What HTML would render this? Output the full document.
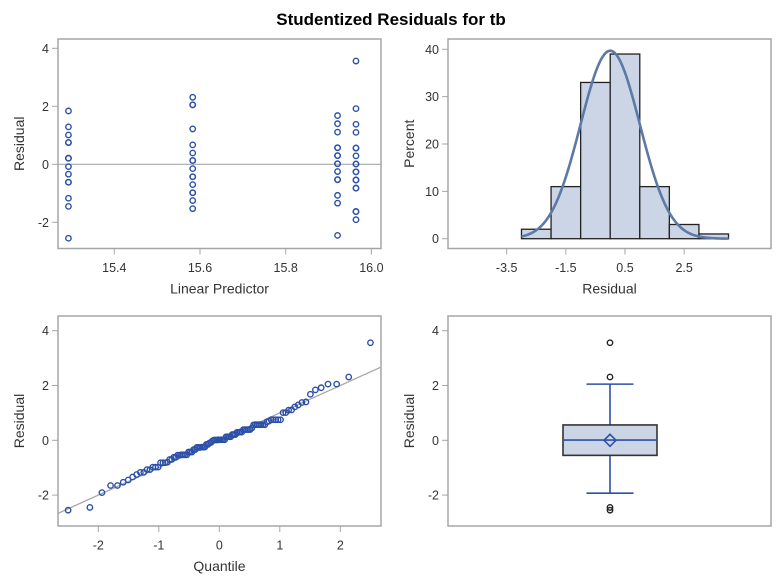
<!DOCTYPE html>
<html><head><meta charset="utf-8"><style>
html,body{margin:0;padding:0;background:#fff;}
svg{display:block;font-family:"Liberation Sans",Arial,sans-serif;}
</style></head><body>
<svg id="c" width="782" height="582" viewBox="0 0 782 582" xmlns="http://www.w3.org/2000/svg">
<text x="391" y="25" text-anchor="middle" font-size="17" font-weight="bold" fill="#000">Studentized Residuals for tb</text>
</svg>
<script>
// ---- data ----
const predictorLevels = [15.293, 15.583, 15.921, 15.964];
const residCol1 = [1.84,1.29,1.01,0.75,0.75,0.21,0.21,-0.08,-0.34,-0.62,-0.62,-1.17,-1.45,-2.55];
const residCol2 = [2.31,2.05,2.05,1.22,0.67,0.39,0.13,0.13,-0.15,-0.43,-0.43,-0.70,-0.98,-0.98,-1.25,-1.53];
const residCol3 = [1.68,1.40,1.11,0.57,0.57,0.30,0.30,0.02,0.02,-0.25,-0.53,-0.53,-1.07,-1.34,-2.45];
const residCol4 = [3.56,1.92,1.38,1.10,0.56,0.56,0.29,0.01,0.01,-0.26,-0.26,-0.54,-0.54,-0.82,-0.82,-1.63,-1.63,-1.91];
const histBinLeft = [-3,-2,-1,0,1,2,3];
const histPercent = [2,11,33,39,11,3,1];
const histXTicks = [-3.5,-1.5,0.5,2.5];
const histYTicks = [0,10,20,30,40];
const normalMean = 0.0;
const normalSd = 1.005;
const sortedResiduals = [-2.55,-2.45,-1.91,-1.65,-1.65,-1.53,-1.45,-1.34,-1.25,-1.17,-1.17,-1.07,-1.07,-0.98,-0.98,-0.98,-0.82,-0.82,-0.82,-0.80,-0.70,-0.70,-0.62,-0.62,-0.54,-0.54,-0.53,-0.53,-0.53,-0.53,-0.43,-0.43,-0.43,-0.34,-0.34,-0.26,-0.26,-0.26,-0.25,-0.25,-0.25,-0.15,-0.15,-0.10,-0.08,-0.02,0.01,0.01,0.01,0.02,
0.02,0.02,0.02,0.02,0.13,0.13,0.13,0.13,0.21,0.21,0.21,0.29,0.29,0.30,0.30,0.39,0.39,0.39,0.39,0.39,0.45,0.56,0.57,0.57,0.57,0.57,0.57,0.57,0.67,0.70,0.75,0.75,0.75,0.75,0.75,1.01,1.01,1.10,1.11,1.22,1.29,1.38,1.40,1.68,1.84,1.92,2.05,2.05,2.31,3.56];
const qqLineIntercept = 0.0;
const qqLineSlope = 1.0;
const boxQ1 = -0.55, boxMedian = 0.01, boxQ3 = 0.56, boxMean = 0.0;
const whiskerLow = -1.93, whiskerHigh = 2.05;
const boxOutliers = [3.56, 2.31, -2.45, -2.55];
const p1XTicks = [15.4,15.6,15.8,16.0];
const residYTicks = [-2,0,2,4];
const qqXTicks = [-2,-1,0,1,2];

// ---- helpers ----
const svg = document.getElementById('c');
const NS = 'http://www.w3.org/2000/svg';
function mk(tag, attrs, parent){ const e=document.createElementNS(NS,tag); for(const k in attrs) e.setAttribute(k,attrs[k]); (parent||svg).appendChild(e); return e; }
function lin(d0,d1,r0,r1){ return v => r0+(v-d0)*(r1-r0)/(d1-d0); }
const BLUE='#2c50a8', FRAME='#a3a6a9', TXT='#333';

function panel(name, x0,y0,x1,y1, sx, sy, xt, yt, xTitle, yTitle, xLabelFmt){
  const g = mk('g',{});
  
  
  const fr = mk('rect',{x:x0,y:y0,width:x1-x0,height:y1-y0,fill:'none',stroke:FRAME,'stroke-width':1.5},g);
  
  
  yt.forEach(v=>{
    const y=sy(v);
    const t=mk('line',{x1:x0-6,x2:x0,y1:y,y2:y,stroke:FRAME,'stroke-width':1},g);
    
    
    const l=mk('text',{x:x0-9,y:y+4.5,'text-anchor':'end','font-size':12.5,fill:TXT},g);
    
    
    l.textContent=v;
  });
  if(xt){ xt.forEach(v=>{
    const x=sx(v);
    const t=mk('line',{x1:x,x2:x,y1:y1,y2:y1+6,stroke:FRAME,'stroke-width':1},g);
    
    
    const l=mk('text',{x:x,y:y1+23.5,'text-anchor':'middle','font-size':12.5,fill:TXT},g);
    
    
    l.textContent=xLabelFmt?xLabelFmt(v):v;
  });}
  if(xTitle){
    const t=mk('text',{x:(x0+x1)/2,y:y1+45,'text-anchor':'middle','font-size':14,fill:TXT},g);
    
    
    t.textContent=xTitle;
  }
  const cy=(y0+y1)/2, cx=x0-34;
  const yt2=mk('text',{x:cx,y:cy,'text-anchor':'middle','font-size':14,fill:TXT,transform:`rotate(-90 ${cx} ${cy})`},g);
  
  
  yt2.textContent=yTitle;
  return g;
}
function circ(g,x,y,col,name){
  const c=mk('circle',{cx:x,cy:y,r:2.7,fill:'none',stroke:col,'stroke-width':1.4},g);
  
  
}

// ---- panel 1: residual vs predictor ----
const s1x=lin(15.4,15.6,114.3,200), s1y=lin(0,2,164.3,106.3);
const g1=panel('residual-vs-predictor-panel',58,39,381,248.5,s1x,s1y,p1XTicks,residYTicks,'Linear Predictor','Residual',v=>v.toFixed(1));
const r0=mk('line',{x1:58,x2:381,y1:s1y(0),y2:s1y(0),stroke:'#a8a8a8','stroke-width':1.2},g1);


[residCol1,residCol2,residCol3,residCol4].forEach((col,i)=>col.forEach(v=>circ(g1,s1x(predictorLevels[i]),s1y(v),BLUE,'residual-point')));

// ---- panel 2: histogram ----
const s2x=lin(-3.5,0.5,506.7,625), s2y=lin(0,40,238.7,49.3);
const g2=panel('residual-histogram-panel',448,39,771,248.5,s2x,s2y,histXTicks,histYTicks,'Residual','Percent',v=>v.toFixed(1));
histPercent.forEach((p,i)=>{
  const xa=s2x(histBinLeft[i]), xb=s2x(histBinLeft[i]+1);
  const b=mk('rect',{x:xa,y:s2y(p),width:xb-xa,height:s2y(0)-s2y(p),fill:'#cbd5e6',stroke:'#222','stroke-width':1.3},g2);
  
  
});
let dpath='';
for(let k=0;k<=140;k++){
  const v=histBinLeft[0]+k*(histBinLeft[histBinLeft.length-1]+1-histBinLeft[0])/140;
  const dens=100/(normalSd*Math.sqrt(2*Math.PI))*Math.exp(-0.5*Math.pow((v-normalMean)/normalSd,2));
  dpath+=(k?'L':'M')+s2x(v).toFixed(2)+' '+s2y(dens).toFixed(2);
}
const nc=mk('path',{d:dpath,fill:'none',stroke:'#5b7aa6','stroke-width':2.6},g2);



// ---- panel 3: QQ plot ----
const s3x=lin(0,2,219.3,340.3), s3y=lin(0,2,440.3,385.5);
const g3=panel('qq-plot-panel',58,316,381,526,s3x,s3y,qqXTicks,residYTicks,'Quantile','Residual');
function invNorm(p){
  const a=[-39.6968302866538,220.946098424521,-275.928510446969,138.357751867269,-30.6647980661472,2.50662827745924];
  const b=[-54.4760987982241,161.585836858041,-155.698979859887,66.8013118877197,-13.2806815528857];
  const c=[-0.00778489400243029,-0.322396458041136,-2.40075827716184,-2.54973253934373,4.37466414146497,2.93816398269878];
  const d=[0.00778469570904146,0.32246712907004,2.445134137143,3.75440866190742];
  let q,r;
  if(p<0.02425){q=Math.sqrt(-2*Math.log(p));return (((((c[0]*q+c[1])*q+c[2])*q+c[3])*q+c[4])*q+c[5])/((((d[0]*q+d[1])*q+d[2])*q+d[3])*q+1);}
  if(p>1-0.02425){q=Math.sqrt(-2*Math.log(1-p));return -(((((c[0]*q+c[1])*q+c[2])*q+c[3])*q+c[4])*q+c[5])/((((d[0]*q+d[1])*q+d[2])*q+d[3])*q+1);}
  q=p-0.5;r=q*q;return (((((a[0]*r+a[1])*r+a[2])*r+a[3])*r+a[4])*r+a[5])*q/(((((b[0]*r+b[1])*r+b[2])*r+b[3])*r+b[4])*r+1);
}
const qxa=(58-219.3)/60.5, qxb=(381-219.3)/60.5;
const ql=mk('line',{x1:58,x2:381,y1:s3y(qqLineIntercept+qqLineSlope*qxa),y2:s3y(qqLineIntercept+qqLineSlope*qxb),stroke:'#a8a8a8','stroke-width':1.3},g3);


const N=sortedResiduals.length;
sortedResiduals.forEach((v,i)=>circ(g3,s3x(invNorm((i+1-0.375)/(N+0.25))),s3y(v),BLUE,'qq-point'));

// ---- panel 4: box plot ----
const s4y=s3y;
const g4=panel('residual-boxplot-panel',448,316,771,526,null,s4y,null,residYTicks,null,'Residual');
const bx=610, bw=47, cw=23.5;
function ln(x1,y1,x2,y2,name,col,w){const l=mk('line',{x1,y1,x2,y2,stroke:col,'stroke-width':w},g4);}
ln(bx,s4y(boxQ3),bx,s4y(whiskerHigh),'upper-whisker',BLUE,1.6);
ln(bx,s4y(boxQ1),bx,s4y(whiskerLow),'lower-whisker',BLUE,1.6);
ln(bx-cw,s4y(whiskerHigh),bx+cw,s4y(whiskerHigh),'upper-whisker-cap',BLUE,1.6);
ln(bx-cw,s4y(whiskerLow),bx+cw,s4y(whiskerLow),'lower-whisker-cap',BLUE,1.6);
const bb=mk('rect',{x:bx-bw,y:s4y(boxQ3),width:2*bw,height:s4y(boxQ1)-s4y(boxQ3),fill:'#cbd5e6',stroke:'#333','stroke-width':1.6},g4);


ln(bx-bw,s4y(boxMedian),bx+bw,s4y(boxMedian),'median-line',BLUE,1.6);
const my=s4y(boxMean);
const dm=mk('path',{d:`M${bx} ${my-6} L${bx+6} ${my} L${bx} ${my+6} L${bx-6} ${my} Z`,fill:'none',stroke:BLUE,'stroke-width':1.6},g4);


boxOutliers.forEach(v=>circ(g4,bx,s4y(v),'#222','outlier-point'));
</script>
</body></html>
